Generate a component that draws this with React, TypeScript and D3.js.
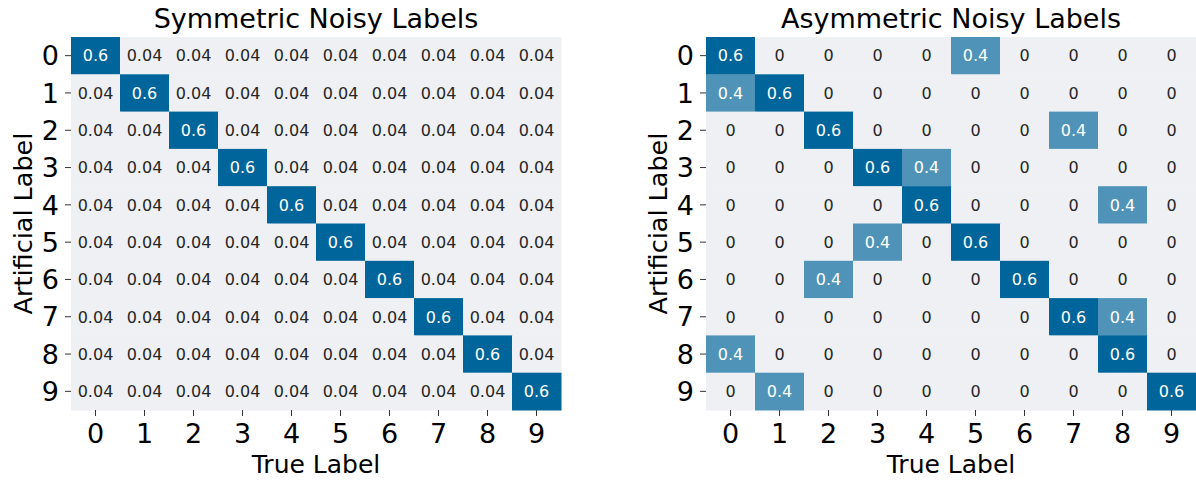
import React from "react";
import * as d3 from "d3";

const labels = ["0", "1", "2", "3", "4", "5", "6", "7", "8", "9"];

const symmetric: number[][] = [
  [0.6, 0.04, 0.04, 0.04, 0.04, 0.04, 0.04, 0.04, 0.04, 0.04],
  [0.04, 0.6, 0.04, 0.04, 0.04, 0.04, 0.04, 0.04, 0.04, 0.04],
  [0.04, 0.04, 0.6, 0.04, 0.04, 0.04, 0.04, 0.04, 0.04, 0.04],
  [0.04, 0.04, 0.04, 0.6, 0.04, 0.04, 0.04, 0.04, 0.04, 0.04],
  [0.04, 0.04, 0.04, 0.04, 0.6, 0.04, 0.04, 0.04, 0.04, 0.04],
  [0.04, 0.04, 0.04, 0.04, 0.04, 0.6, 0.04, 0.04, 0.04, 0.04],
  [0.04, 0.04, 0.04, 0.04, 0.04, 0.04, 0.6, 0.04, 0.04, 0.04],
  [0.04, 0.04, 0.04, 0.04, 0.04, 0.04, 0.04, 0.6, 0.04, 0.04],
  [0.04, 0.04, 0.04, 0.04, 0.04, 0.04, 0.04, 0.04, 0.6, 0.04],
  [0.04, 0.04, 0.04, 0.04, 0.04, 0.04, 0.04, 0.04, 0.04, 0.6],
];

const asymmetric: number[][] = [
  [0.6, 0, 0, 0, 0, 0.4, 0, 0, 0, 0],
  [0.4, 0.6, 0, 0, 0, 0, 0, 0, 0, 0],
  [0, 0, 0.6, 0, 0, 0, 0, 0.4, 0, 0],
  [0, 0, 0, 0.6, 0.4, 0, 0, 0, 0, 0],
  [0, 0, 0, 0, 0.6, 0, 0, 0, 0.4, 0],
  [0, 0, 0, 0.4, 0, 0.6, 0, 0, 0, 0],
  [0, 0, 0.4, 0, 0, 0, 0.6, 0, 0, 0],
  [0, 0, 0, 0, 0, 0, 0, 0.6, 0.4, 0],
  [0.4, 0, 0, 0, 0, 0, 0, 0, 0.6, 0],
  [0, 0.4, 0, 0, 0, 0, 0, 0, 0, 0.6],
];

const titles = ["Symmetric Noisy Labels", "Asymmetric Noisy Labels"];
const xLabel = "True Label";
const yLabel = "Artificial Label";

const FONT = "DejaVu Sans, sans-serif";
const LOW = "#eff0f3";
const HIGH = "#00659a";

function fmt(v: number) {
  return String(v);
}

function Heatmap({ data, title, left }: { data: number[][]; title: string; left: number }) {
  const top = 37;
  const w = 490;
  const h = 373;
  const x = d3.scaleBand<string>().domain(labels).range([left, left + w]);
  const y = d3.scaleBand<string>().domain(labels).range([top, top + h]);
  const flat = data.flat();
  const color = d3
    .scaleLinear<string>()
    .domain([d3.min(flat) as number, d3.max(flat) as number])
    .range([LOW, HIGH])
    .interpolate(d3.interpolateRgb);
  const thr = ((d3.min(flat) as number) + (d3.max(flat) as number)) / 2;
  const cx = left + w / 2;
  return (
    <g>
      <text x={cx} y={28} textAnchor="middle" fontFamily={FONT} fontSize={27} fill="#000">
        {title}
      </text>
      {data.map((row, i) =>
        row.map((v, j) => (
          <g key={`${i}-${j}`}>
            <rect
              x={x(labels[j])}
              y={y(labels[i])}
              width={x.bandwidth() + 0.5}
              height={y.bandwidth() + 0.5}
              fill={color(v)}
            />
            <text
              x={(x(labels[j]) as number) + x.bandwidth() / 2}
              y={(y(labels[i]) as number) + y.bandwidth() / 2}
              dy="0.36em"
              textAnchor="middle"
              fontFamily={FONT}
              fontSize={16}
              fill={v > thr ? "#ffffff" : "#262626"}
            >
              {fmt(v)}
            </text>
          </g>
        ))
      )}
      {labels.map((l) => {
        const yy = (y(l) as number) + y.bandwidth() / 2;
        return (
          <g key={"y" + l}>
            <line x1={left - 6} x2={left} y1={yy} y2={yy} stroke="#333" strokeWidth={1} />
            <text x={left - 12} y={yy} dy="0.36em" textAnchor="end" fontFamily={FONT} fontSize={27} fill="#000">
              {l}
            </text>
          </g>
        );
      })}
      {labels.map((l) => {
        const xx = (x(l) as number) + x.bandwidth() / 2;
        return (
          <g key={"x" + l}>
            <line x1={xx} x2={xx} y1={top + h} y2={top + h + 6} stroke="#333" strokeWidth={1} />
            <text x={xx} y={443} textAnchor="middle" fontFamily={FONT} fontSize={27} fill="#000">
              {l}
            </text>
          </g>
        );
      })}
      <text x={cx} y={473} textAnchor="middle" fontFamily={FONT} fontSize={25} fill="#000">
        {xLabel}
      </text>
      <text
        transform={`translate(${left - 39},${top + h / 2}) rotate(-90)`}
        textAnchor="middle"
        fontFamily={FONT}
        fontSize={25.5}
        fill="#000"
      >
        {yLabel}
      </text>
    </g>
  );
}

export default function App() {
  return (
    <svg
      width={1196}
      height={480}
      style={{ position: "absolute", left: 0, top: 0, background: "#fff" }}
    >
      <rect width={1196} height={480} fill="#fff" />
      <Heatmap data={symmetric} title={titles[0]} left={71} />
      <Heatmap data={asymmetric} title={titles[1]} left={706} />
    </svg>
  );
}
